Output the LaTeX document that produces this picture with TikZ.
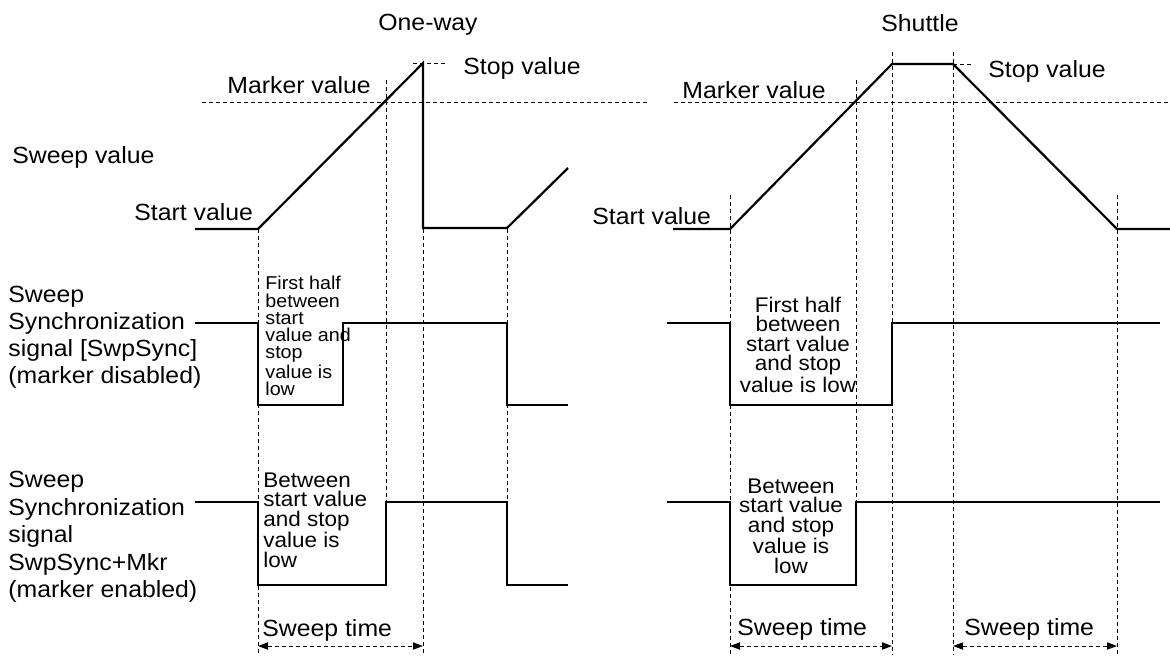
\documentclass[tikz,border=0pt]{standalone}
\usepackage{fontspec}
\setmainfont{Liberation Sans}[FakeStretch=1.06]
\usetikzlibrary{arrows.meta}
\newcommand\fbig{\fontsize{11.7}{13.5}\selectfont}
\newcommand\fbigb{\fontsize{11.7}{13.75}\selectfont}
\newcommand\fsmall{\fontsize{9.3}{8.65}\selectfont}
\newcommand\fmid{\fontsize{10.6}{9.75}\selectfont}
\begin{document}
\begin{tikzpicture}[x=0.5pt,y=-0.5pt,
  wave/.style={line width=1.1pt, line join=miter},
  guide/.style={line width=0.5pt, dash pattern=on 2pt off 1.5pt},
  span/.style={guide, {Triangle[length=5pt,width=3.6pt]}-{Triangle[length=5pt,width=3.6pt]}},
  txt/.style={inner sep=0pt, font=\fbig},
  lbla/.style={inner sep=0pt, font=\fbig, align=left, anchor=west},
  lblb/.style={inner sep=0pt, font=\fbigb, align=left, anchor=west},
  note/.style={inner sep=0pt, font=\fsmall, align=left, anchor=west},
  notec/.style={inner sep=0pt, font=\fmid, align=center},
  notel/.style={inner sep=0pt, font=\fmid, align=left, anchor=west}]
\useasboundingbox (0,0) rectangle (1170,655);

% ---------- titles and value labels ----------
\node[txt, anchor=base] (t1) at (428,30) {One-way};
\node[txt, anchor=base] (t2) at (920,31) {Shuttle};
\node[txt, anchor=base west] (stop1) at (463,74) {Stop value};
\node[txt, anchor=base west] (stop2) at (988,77) {Stop value};
\node[txt, anchor=base west] (mk1) at (227,93) {Marker value};
\node[txt, anchor=base west] (mk2) at (682,98) {Marker value};
\node[txt, anchor=base west] (sv) at (12,163) {Sweep value};
\node[txt, anchor=base west] (st1) at (134,220) {Start value};
\node[txt, anchor=base west] (st2) at (592,224) {Start value};
\node[lbla] (l1) at (8,337) {Sweep\\Synchronization\\signal [SwpSync]\\(marker disabled)};
\node[lblb] (l2) at (8,537) {Sweep\\Synchronization\\signal\\SwpSync+Mkr\\(marker enabled)};

% ---------- notes inside pulses ----------
\node[note] (n1) at (265,336) {First half\\between\\start\\value and\\stop\\value is\\low};
\node[notel] (n2) at (263,520) {Between\\start value\\and stop\\value is\\low};
\node[notec] (n3) at (798,345) {First half\\between\\start value\\and stop\\value is low};
\node[notec] (n4) at (791,526) {Between\\start value\\and stop\\value is\\low};

% ---------- guide lines ----------
\draw[guide] (202,102) -- (647,102);
\draw[guide] (674,102) -- (1170,102);
\draw[guide] (413,63) -- (445,63);
\draw[guide] (953,64) -- (973,64);
\draw[guide] (258,229) -- (258,655);
\draw[guide] (386,80) -- (386,502);
\draw[guide] (423,229) -- (423,655);
\draw[guide] (507,229) -- (507,502);
\draw[guide] (730,195) -- (730,655);
\draw[guide] (856,80) -- (856,502);
\draw[guide] (892,52) -- (892,655);
\draw[guide] (953,52) -- (953,655);
\draw[guide] (1117,195) -- (1117,655);

% ---------- waveforms ----------
\draw[wave] (195,229) -- (258,229) -- (423,63) -- (423,228) -- (507,228) -- (568,168);
\draw[wave] (673,229) -- (730,229) -- (892,64) -- (953,64) -- (1117,229) -- (1170,229);
\draw[wave] (195,323) -- (258,323) -- (258,405) -- (343,405) -- (343,323) -- (507,323) -- (507,405) -- (568,405);
\draw[wave] (195,502) -- (258,502) -- (258,585) -- (386,585) -- (386,502) -- (507,502) -- (507,585) -- (568,585);
\draw[wave] (667,323) -- (730,323) -- (730,405) -- (892,405) -- (892,323) -- (1160,323);
\draw[wave] (667,502) -- (730,502) -- (730,585) -- (856,585) -- (856,502) -- (1160,502);

% ---------- sweep time ----------
\coordinate (a1) at (258,646);
\coordinate (b1) at (423,646);
\coordinate (a2) at (730,646);
\coordinate (b2) at (892,646);
\coordinate (a3) at (953,646);
\coordinate (b3) at (1117,646);
\draw[span] (a1) -- (b1);
\draw[span] (a2) -- (b2);
\draw[span] (a3) -- (b3);
\node[txt, anchor=base west] (sw1) at (262,636) {Sweep time};
\node[txt, anchor=base west] (sw2) at (737,635) {Sweep time};
\node[txt, anchor=base west] (sw3) at (964,635) {Sweep time};
\end{tikzpicture}
\end{document}
